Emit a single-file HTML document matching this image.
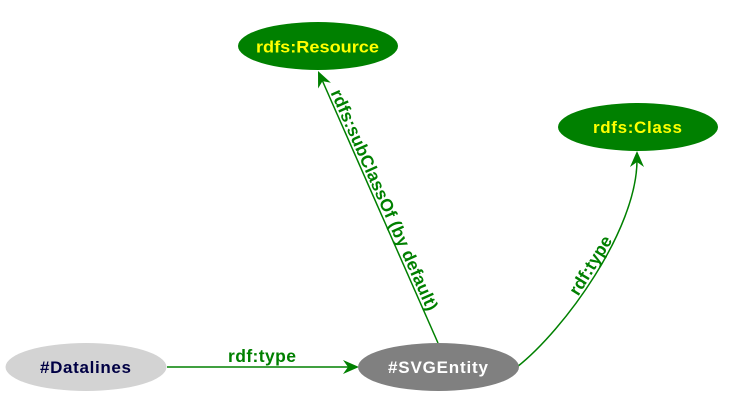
<!DOCTYPE html>
<html>
<head>
<meta charset="utf-8">
<style>
  html, body { margin: 0; padding: 0; background: #ffffff; }
  svg { display: block; }
  text { font-family: "Liberation Sans", Arial, sans-serif; font-weight: bold; }
</style>
</head>
<body>
<svg width="737" height="404" viewBox="0 0 737 404" xmlns="http://www.w3.org/2000/svg">
  <rect x="0" y="0" width="737" height="404" fill="#ffffff"/>

  <!-- Datalines -> SVGEntity -->
  <line x1="167" y1="367" x2="350" y2="367" stroke="#008000" stroke-width="1.5"/>
  <polygon points="359,367 343,374 348,367 343,360" fill="#008000"/>
  <text x="262" y="362" font-size="17.5" fill="#008000" text-anchor="middle" textLength="68" lengthAdjust="spacing">rdf:type</text>

  <!-- SVGEntity -> Resource -->
  <line x1="438" y1="343" x2="322.5" y2="81" stroke="#008000" stroke-width="1.5"/>
  <polygon points="318,71 330.9,82.8 322.5,81.1 318.1,88.5" fill="#008000"/>
  <text x="0" y="0" font-size="17.5" fill="#008000" text-anchor="middle" textLength="240" lengthAdjust="spacing" transform="translate(379,202.3) rotate(66.1)">rdfs:subClassOf (by default)</text>

  <!-- SVGEntity -> Class (curve) -->
  <path d="M517,367 C564,330 637,230 637,160" fill="none" stroke="#008000" stroke-width="1.5"/>
  <polygon points="637,151 644,167 637,162 630,167" fill="#008000"/>
  <text x="0" y="0" font-size="17.5" fill="#008000" text-anchor="middle" textLength="66" lengthAdjust="spacing" transform="translate(595.5,268.5) rotate(-58.5)">rdf:type</text>

  <!-- Nodes -->
  <ellipse cx="318" cy="46" rx="80" ry="24" fill="#008000"/>
  <text x="317.5" y="52.5" font-size="17" fill="#ffff00" text-anchor="middle" textLength="123" lengthAdjust="spacingAndGlyphs">rdfs:Resource</text>

  <ellipse cx="638" cy="127" rx="80" ry="24" fill="#008000"/>
  <text x="637.5" y="133" font-size="17" fill="#ffff00" text-anchor="middle" textLength="89" lengthAdjust="spacing">rdfs:Class</text>

  <ellipse cx="86" cy="367" rx="80.5" ry="24" fill="#d3d3d3"/>
  <text x="85.5" y="373" font-size="17" fill="#000044" text-anchor="middle" textLength="91" lengthAdjust="spacing">#Datalines</text>

  <ellipse cx="438.5" cy="367" rx="80.5" ry="24" fill="#808080"/>
  <text x="438" y="373" font-size="17" fill="#ffffff" text-anchor="middle" textLength="100" lengthAdjust="spacing">#SVGEntity</text>
</svg>
</body>
</html>
